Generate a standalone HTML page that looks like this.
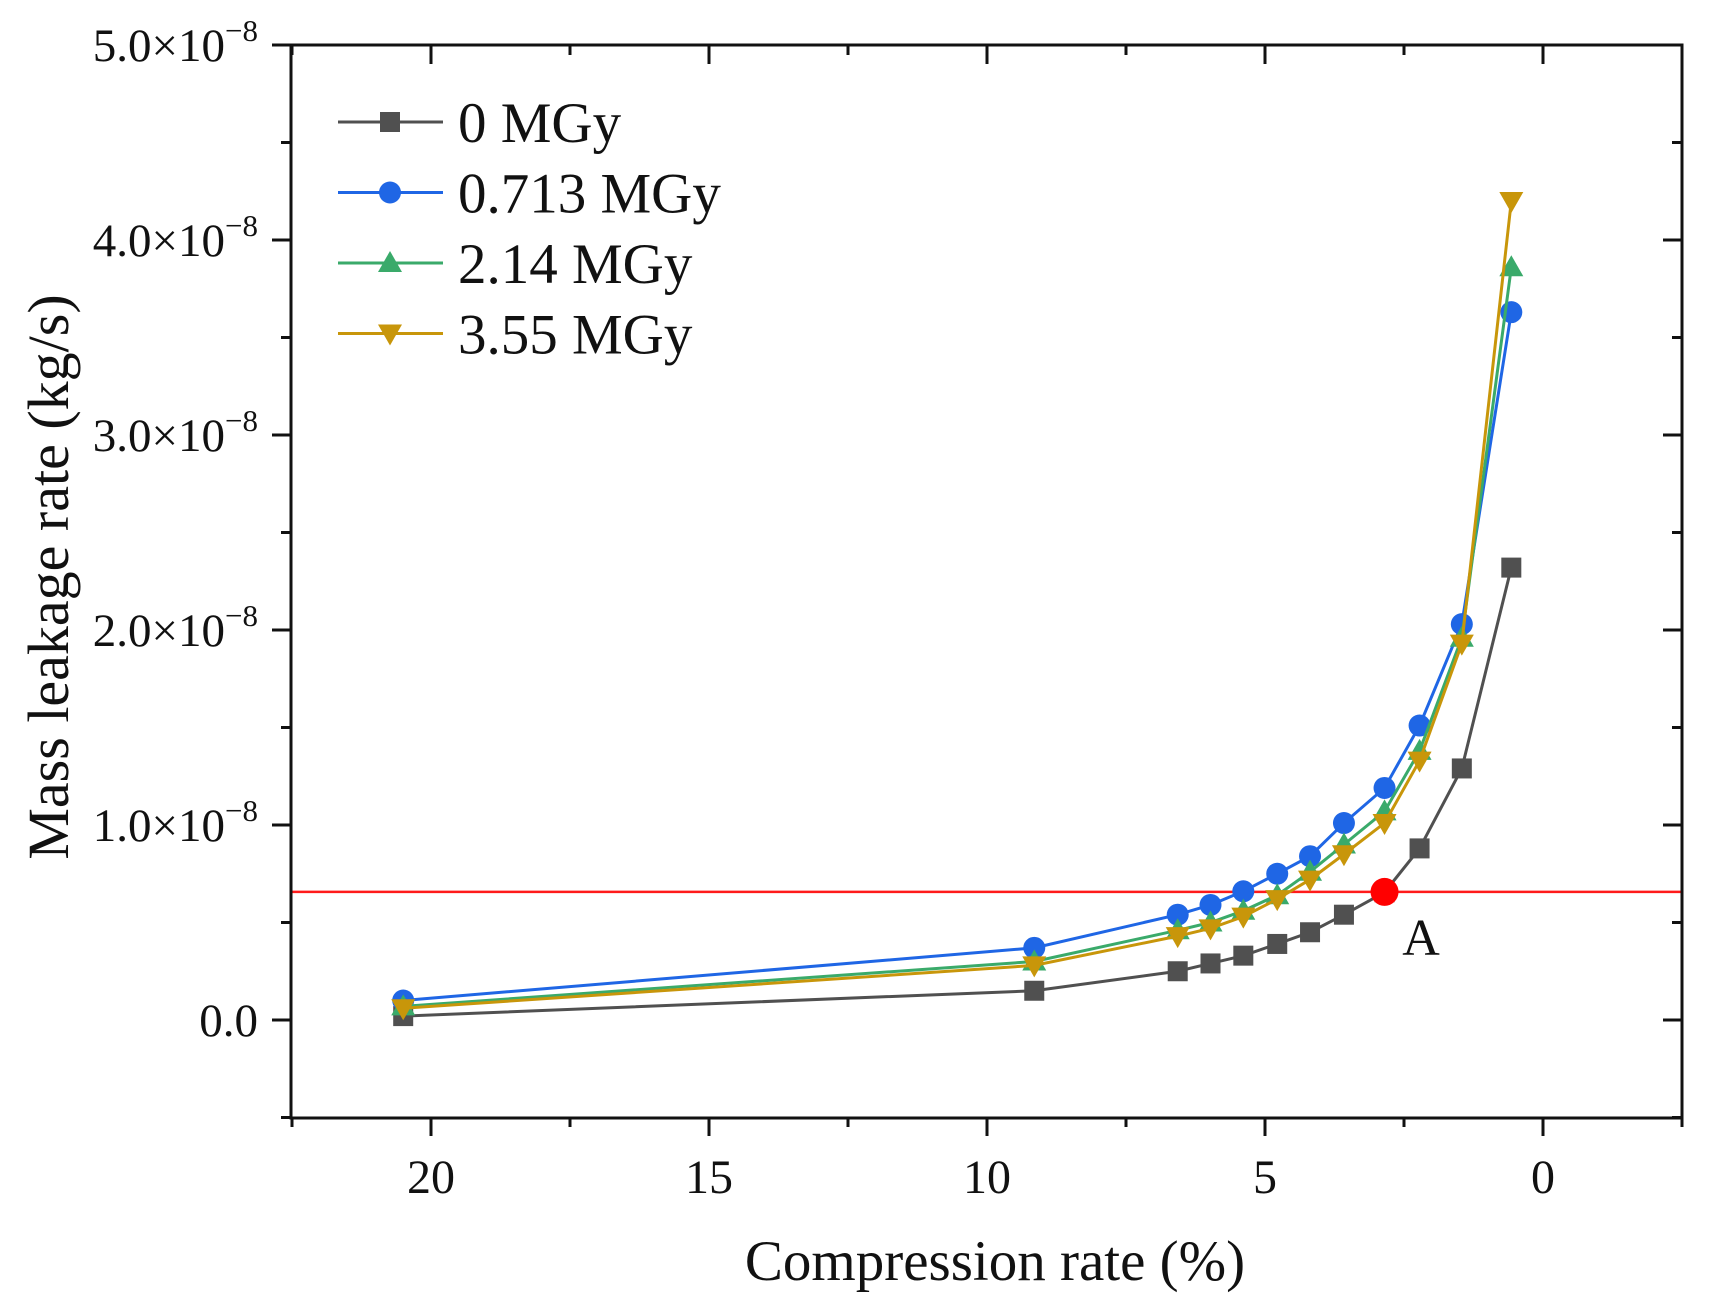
<!DOCTYPE html>
<html><head><meta charset="utf-8"><style>
html,body{margin:0;padding:0;background:#fff;}
svg text{font-family:"Liberation Serif",serif;fill:#111;}
</style></head><body>
<svg id="s" width="1719" height="1308" xmlns="http://www.w3.org/2000/svg"></svg>
<script>
const s=document.getElementById('s');
let h='';
const X=v=>1543-55.6*v, Y=v=>1020-195*v;
h+=`<line x1="291" x2="1682" y1="${Y(0.657)}" y2="${Y(0.657)}" stroke="#ff1a1a" stroke-width="2.5"/>`;
h+=`<rect x="291" y="45" width="1391" height="1073" fill="none" stroke="#111" stroke-width="3"/>`;
for(let i=-1;i<=10;i++){const v=i/2,y=Y(v),maj=i%2==0;
 h+=`<line x1="${maj?272:281}" x2="291" y1="${y}" y2="${y}" stroke="#111" stroke-width="3"/>`;
 h+=`<line x1="1682" x2="${maj?1663:1672}" y1="${y}" y2="${y}" stroke="#111" stroke-width="3"/>`;
 if(maj){const lab=v==0?'0.0':`${v.toFixed(1)}×10<tspan dy="-20" font-size="31">−8</tspan>`;
  h+=`<text x="258" y="${y+16}" font-size="47" text-anchor="end">${lab}</text>`;}
}
for(let i=-1;i<=9;i++){const v=i*2.5,x=X(v),maj=i%2==0;
 h+=`<line x1="${x}" x2="${x}" y1="1118" y2="${maj?1136:1127}" stroke="#111" stroke-width="3"/>`;
 h+=`<line x1="${x}" x2="${x}" y1="45" y2="${maj?64:55}" stroke="#111" stroke-width="3"/>`;
 if(maj&&v>=0)h+=`<text x="${x}" y="1193" font-size="48" text-anchor="middle">${v}</text>`;
}
h+=`<text x="995" y="1280" font-size="57" text-anchor="middle">Compression rate (%)</text>`;
h+=`<text transform="translate(68,577) rotate(-90)" font-size="58" text-anchor="middle">Mass leakage rate (kg/s)</text>`;
const xs=[20.5,9.15,6.57,5.98,5.39,4.78,4.19,3.58,2.85,2.22,1.46,0.57];
const S=[
 {c:'#505050',m:'sq',d:[0.02,0.15,0.25,0.29,0.33,0.39,0.45,0.54,0.655,0.88,1.29,2.32]},
 {c:'#1f66e5',m:'ci',d:[0.10,0.37,0.54,0.59,0.66,0.75,0.84,1.01,1.19,1.51,2.03,3.63]},
 {c:'#3aaa6a',m:'up',d:[0.07,0.30,0.46,0.50,0.56,0.64,0.76,0.90,1.07,1.38,1.96,3.86]},
 {c:'#c8960a',m:'dn',d:[0.06,0.28,0.43,0.47,0.53,0.62,0.72,0.85,1.01,1.33,1.93,4.20]}];
function mk(m,x,y,c){const r=10;
 if(m=='sq')return `<rect x="${x-r}" y="${y-r}" width="${2*r}" height="${2*r}" fill="${c}"/>`;
 if(m=='ci')return `<circle cx="${x}" cy="${y}" r="${r+1}" fill="${c}"/>`;
 if(m=='up')return `<polygon points="${x},${y-12} ${x+12},${y+9} ${x-12},${y+9}" fill="${c}"/>`;
 return `<polygon points="${x},${y+12} ${x+12},${y-9} ${x-12},${y-9}" fill="${c}"/>`;}
S.forEach(o=>{h+=`<polyline fill="none" stroke="${o.c}" stroke-width="3" points="${xs.map((x,i)=>X(x)+','+Y(o.d[i])).join(' ')}"/>`;
 xs.forEach((x,i)=>h+=mk(o.m,X(x),Y(o.d[i]),o.c));});
h+=`<circle cx="${X(2.85)}" cy="${Y(0.657)}" r="14" fill="#ff0000"/>`;
h+=`<text x="1421" y="955" font-size="52" text-anchor="middle">A</text>`;
const L=['0 MGy','0.713 MGy','2.14 MGy','3.55 MGy'];
S.forEach((o,i)=>{const y=122+70.5*i;
 h+=`<line x1="338" x2="443" y1="${y}" y2="${y}" stroke="${o.c}" stroke-width="3"/>`+mk(o.m,390,y,o.c);
 h+=`<text x="458" y="${y+20}" font-size="57">${L[i]}</text>`;});
s.innerHTML=h;
</script>
</body></html>
